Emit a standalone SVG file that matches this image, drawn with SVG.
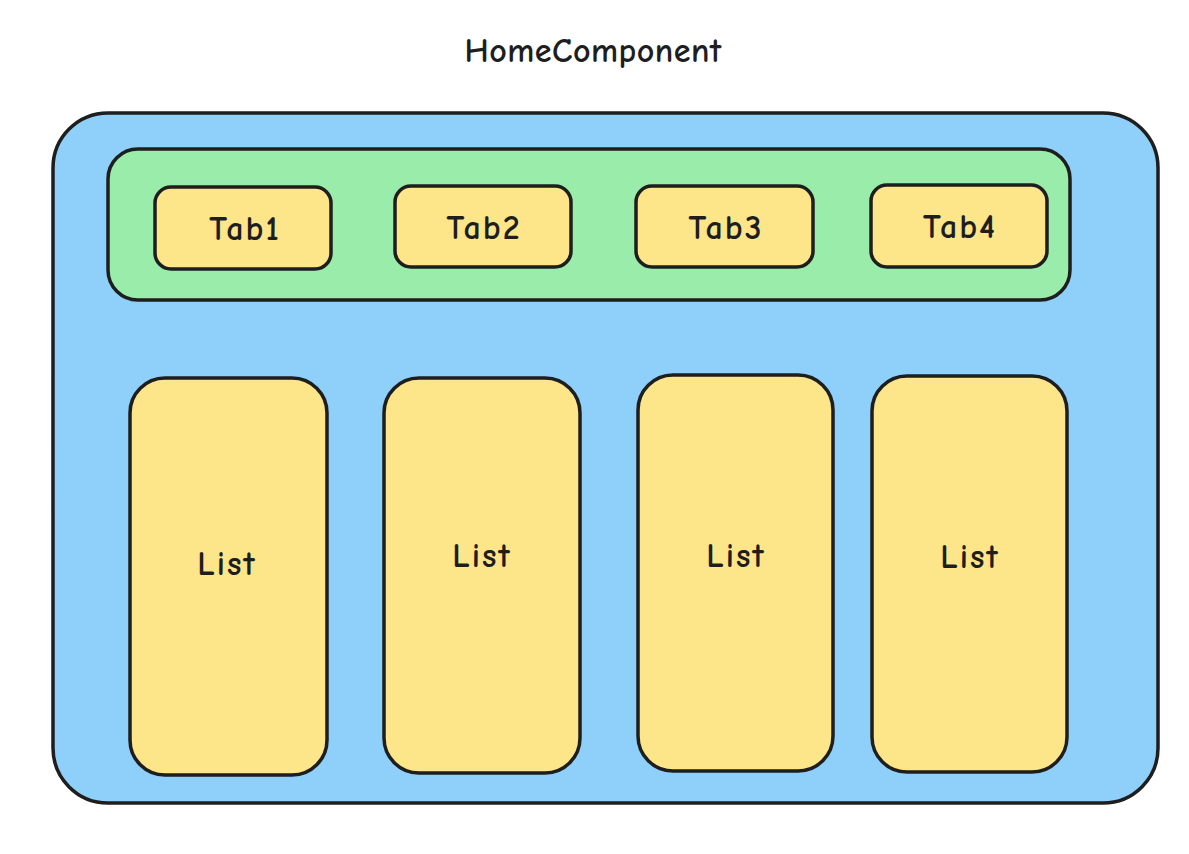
<svg xmlns="http://www.w3.org/2000/svg" width="1189" height="854" viewBox="0 0 1189 854">
<style>
.box{stroke:#1e1e1e;stroke-width:3.5}
.outer{fill:#8fd0fb}
.bar{fill:#99ecaa}
.tab,.list{fill:#fde58a}
text{font-family:"Comic Neue","Lato","Liberation Sans",sans-serif;fill:#1e1e1e;text-anchor:middle;font-weight:bold}
.t{font-size:34px;letter-spacing:2px}
.h{font-size:34px;letter-spacing:0.5px}
</style>
<rect width="1189" height="854" fill="#ffffff"/>
<g id="title"><text class="h" x="593" y="62">HomeComponent</text></g>
<g id="home"><rect class="box outer" x="53" y="113" width="1105" height="690" rx="55"/></g>
<g id="tabbar"><rect class="box bar" x="108" y="149" width="962" height="151" rx="30"/></g>
<g id="tab1"><rect class="box tab" x="155" y="187" width="176" height="82" rx="16"/><text class="t" x="245" y="240">Tab1</text></g>
<g id="tab2"><rect class="box tab" x="395" y="186" width="176" height="81" rx="16"/><text class="t" x="484" y="239">Tab2</text></g>
<g id="tab3"><rect class="box tab" x="636" y="186" width="177" height="81" rx="16"/><text class="t" x="726" y="239">Tab3</text></g>
<g id="tab4"><rect class="box tab" x="871" y="185" width="176" height="82" rx="16"/><text class="t" x="960" y="238">Tab4</text></g>
<g id="list1"><rect class="box list" x="130" y="378" width="197" height="397" rx="35"/><text class="t" x="227" y="575">List</text></g>
<g id="list2"><rect class="box list" x="384" y="378" width="196" height="395" rx="35"/><text class="t" x="482" y="567">List</text></g>
<g id="list3"><rect class="box list" x="638" y="375" width="195" height="396" rx="35"/><text class="t" x="736" y="567">List</text></g>
<g id="list4"><rect class="box list" x="872" y="376" width="195" height="396" rx="35"/><text class="t" x="970" y="568">List</text></g>
<g id="connectors"/>
</svg>
